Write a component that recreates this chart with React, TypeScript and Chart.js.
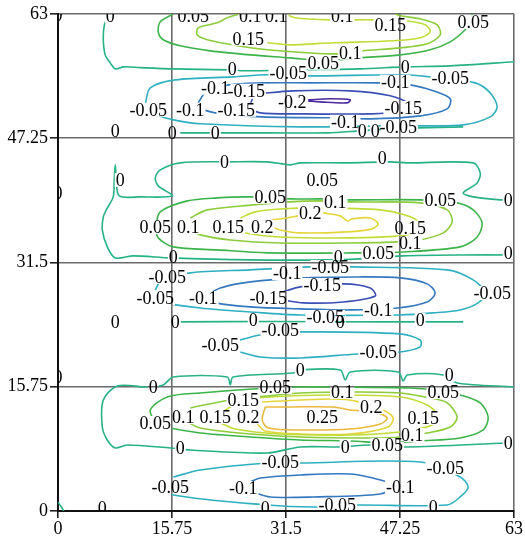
import React, { useEffect, useRef } from 'react';
import { Chart, registerables } from 'chart.js';
Chart.register(...registerables);

const AXIS_TICKS = [0, 15.75, 31.5, 47.25, 63];
const AXIS_TICK_LABELS = ['0', '15.75', '31.5', '47.25', '63'];

const LEVELS = ['-0.2', '-0.15', '-0.1', '-0.05', '0', '0.05', '0.1', '0.15', '0.2', '0.25'];
const LEVEL_COLORS = ['#4b2a9e', '#3a4fb5', '#3479c0', '#2fb0c0', '#27b283', '#3cb44a', '#8ccc3a', '#c2dc36', '#e4d63a', '#eab83c'];

type P = [number, number];

const C_M020: P[][] = [
  [[34.57,52.12],[37.61,52.25],[40.37,52.12],[39.96,51.74],[36.23,51.86],[34.57,51.99]],
];
const C_M015: P[][] = [
  [[27.67,52.88],[32.5,53.26],[40.37,53.26],[45.9,52.63],[48.38,51.61],[46.59,50.6],[43.14,50.34],[33.47,50.34],[27.94,50.47],[26.56,51.1],[26.84,52.25]],
  [[30.7,27.64],[33.47,28.41],[39.41,28.79],[43.14,28.28],[43.83,27.26],[39.41,26.5],[33.88,26.38],[31.01,26.76]],
];
const C_M010: P[][] = [
  [[19.38,51.74],[20.35,53.0],[23.52,54.02],[28.22,54.27],[34.85,54.27],[44.1,54.27],[48.66,54.02],[51.84,53.26],[54.19,52.25],[53.77,50.98],[50.04,50.09],[43.14,49.71],[37.61,49.84],[28.22,49.96],[21.73,50.47],[20.07,50.85]],
  [[20.62,27.39],[22.42,28.28],[26.56,29.04],[33.47,29.55],[41.34,29.67],[47.28,29.55],[51.01,28.79],[52.11,27.64],[51.01,26.5],[46.86,25.74],[40.37,25.49],[33.47,25.62],[26.56,25.87],[21.73,26.38],[20.62,26.88]],
  [[26.56,3.68],[27.94,4.18],[33.47,4.57],[40.37,4.69],[44.52,3.93],[46.59,3.17],[44.52,2.16],[35.26,1.78],[29.32,1.78],[26.84,2.41]],
];
const C_M005: P[][] = [
  [[12.06,51.61],[12.75,53.64],[16.2,54.65],[24.2,55.03],[28.91,55.29],[34.85,55.16],[47.28,55.29],[51.42,55.03],[57.64,54.27],[59.71,53.0],[60.68,51.23],[59.71,49.96],[55.98,48.95],[50.04,48.82],[44.52,48.82],[33.47,48.69],[19.65,49.08],[15.93,49.58],[13.44,50.22],[12.47,50.6]],
  [[13.44,28.02],[14.13,29.04],[18.27,30.18],[26.56,30.56],[34.85,30.94],[40.79,30.94],[53.77,30.56],[57.36,29.29],[59.02,27.64],[58.05,26.38],[55.57,25.49],[51.84,25.11],[47.28,24.85],[33.47,24.85],[26.56,25.23],[19.65,25.74],[14.82,26.38],[13.72,27.01]],
  [[24.22,21.43],[27.94,22.32],[33.47,22.7],[47.28,22.45],[50.04,21.68],[50.04,20.8],[47.28,20.16],[41.34,19.91],[33.47,19.4],[27.94,19.53],[25.19,20.16]],
  [[15.93,4.31],[19.65,5.2],[28.91,6.09],[33.47,6.09],[50.04,6.21],[55.57,4.31],[56.67,3.04],[55.57,1.78],[53.77,0.76],[41.34,0.76],[35.26,0.51],[28.91,0.76],[15.93,2.03],[15.24,3.04]],
];
const C_000: P[][] = [
  [[6.95,63.0],[6.4,61.6],[6.26,59.7],[6.53,57.8],[7.22,56.8],[7.91,56.05],[9.03,56.3],[11.37,56.2],[15.79,56.05],[23.38,55.92],[25.87,55.8],[33.47,55.92],[41.75,56.05],[47.97,56.3],[54.19,56.43],[63,56.95]],
  [[16.89,47.93],[21.73,47.93],[28.91,47.93],[37.2,47.93],[41.75,48.19],[45.9,48.44],[49.63,48.57],[55.98,48.69]],
  [[63,39.44],[61.09,39.44],[57.36,39.82],[55.98,40.32],[57.91,41.59],[58.33,42.86],[57.36,44.13],[48.25,44.13],[45.9,44.26],[39.96,44.13],[33.47,44.13],[32.08,43.88],[28.91,44.26],[23.8,44.26],[16.89,44.13],[14.13,43.24],[13.44,42.23],[13.85,41.21],[15.79,39.94],[11.37,39.82],[8.47,39.94],[8.05,42.0],[7.91,43.88],[7.77,42.0],[7.63,39.82],[6.67,38.17],[6.26,37.28],[6.12,35.63],[6.81,33.48],[7.91,32.08],[10.4,32.34],[15.51,32.08],[26.56,31.83],[37.61,31.83],[41.75,31.96],[47.69,32.34],[55.57,32.46],[63,32.46]],
  [[16.89,23.97],[30.0,24.02],[45.0,23.97],[55.98,23.97]],
  [[63,15.72],[55.15,16.23],[53.22,17.25],[48.25,17.25],[47.69,16.48],[47.0,17.63],[40.37,17.63],[39.68,16.61],[38.99,17.88],[33.47,17.88],[32.5,17.5],[24.2,16.99],[23.8,15.98],[23.38,16.99],[15.93,16.99],[14.54,15.98],[12.33,15.72],[8.19,15.85],[6.26,14.08],[6.12,10.65],[6.81,9.0],[7.91,7.99],[9.57,8.37],[15.51,7.99],[18.27,7.74],[28.91,7.35],[33.47,8.12],[38.99,8.12],[43.14,8.37],[48.25,8.12],[62.06,8.62],[63,8.62]],
  [[0,1.1],[0.4,0.6],[0.8,0]],
];
const C_005: P[][] = [
  [[15.93,63.02],[14.13,62.01],[13.85,60.74],[14.54,59.73],[16.89,58.97],[21.04,58.33],[26.56,57.82],[32.08,57.44],[36.92,57.07],[41.75,57.44],[47.28,57.82],[51.42,58.46],[54.19,59.47],[56.26,61.0],[56.95,62.01],[57.22,63.02]],
  [[13.44,36.01],[14.13,37.92],[17.86,39.31],[22.0,39.69],[26.56,39.82],[32.08,39.56],[36.64,39.56],[40.37,39.44],[50.04,39.44],[55.15,39.06],[57.36,38.17],[58.6,36.52],[57.91,34.74],[55.57,33.48],[47.69,32.84],[41.06,32.72],[28.91,32.72],[22.0,33.1],[15.93,33.48],[13.85,34.62],[13.44,36.01]],
  [[13.44,11.16],[12.75,12.81],[15.1,14.46],[19.65,14.96],[28.91,15.6],[33.05,15.72],[38.02,15.72],[48.66,15.6],[53.22,15.21],[55.57,14.71],[58.33,13.7],[59.43,11.92],[58.74,10.27],[55.57,9.26],[50.04,8.88],[45.48,8.62],[40.37,8.88],[33.47,9.0],[26.56,9.38],[19.65,9.89],[15.51,10.52],[13.72,10.91]],
];
const C_010: P[][] = [
  [[25.19,63.02],[23.38,62.52],[22.0,61.88],[19.38,61.25],[19.24,60.36],[20.62,59.73],[24.77,58.97],[28.91,58.46],[34.43,58.08],[38.58,57.95],[42.03,58.33],[47.28,58.71],[51.01,59.22],[52.8,60.36],[52.39,61.63],[50.04,62.39],[47.28,62.77],[46.59,63.02]],
  [[18.27,37.15],[20.62,38.17],[26.98,38.8],[32.08,39.18],[36.23,39.31],[40.37,39.18],[50.04,39.06],[53.77,38.17],[54.46,36.65],[53.22,35.25],[50.04,34.36],[47.28,34.11],[40.37,33.98],[30.7,33.98],[23.8,34.36],[19.65,35.0],[18.27,35.63]],
  [[18.27,13.06],[23.8,14.08],[28.91,14.58],[33.47,14.96],[41.75,15.09],[47.28,14.96],[51.42,14.33],[53.77,13.7],[55.15,11.92],[54.19,10.65],[51.01,9.89],[47.28,9.38],[43.14,9.26],[33.47,9.38],[26.56,9.76],[19.65,10.52],[17.86,11.28]],
];
const C_015: P[][] = [
  [[31.39,63.02],[32.77,62.52],[37.61,62.26],[43.41,62.26],[47.97,62.14],[50.73,61.63],[51.42,60.74],[50.04,59.98],[46.31,59.6],[38.02,59.35],[32.08,59.09],[28.91,59.35]],
  [[25.19,37.15],[27.25,37.92],[30.7,38.29],[36.23,38.42],[44.52,38.17],[47.97,37.53],[49.77,36.65],[49.35,35.38],[47.28,34.87],[40.37,34.62],[30.7,34.74],[25.87,35.25],[24.07,35.76]],
  [[22.7,12.55],[25.6,14.08],[29.32,14.46],[37.61,14.71],[47.28,14.46],[51.01,13.44],[52.39,12.17],[51.7,10.91],[47.28,10.02],[40.37,9.64],[30.7,9.76],[24.49,10.4],[22.42,11.16]],
];
const C_020: P[][] = [
  [[36.64,37.79],[38.99,37.41],[39.96,36.77],[40.65,37.03],[43.14,37.15],[44.24,36.39],[43.41,35.76],[39.96,35.38],[33.47,35.25],[30.7,35.63],[29.6,36.01]],
  [[29.6,36.9],[31.67,37.15],[33.19,37.41]],
  [[28.22,13.82],[33.47,14.08],[38.02,14.2],[41.06,13.95],[45.21,12.68],[46.31,11.79],[45.62,10.65],[40.37,9.76],[33.47,9.76],[28.63,10.14],[27.53,11.03]],
];
const C_025: P[][] = [
  [[28.63,13.19],[32.08,13.19],[38.02,13.19],[40.37,12.81],[43.83,12.55],[45.48,11.79],[44.52,11.03],[40.37,10.4],[33.47,10.27],[29.05,10.52],[28.22,11.54],[28.63,13.19]],
];
const CONTOURS = [C_M020, C_M015, C_M010, C_M005, C_000, C_005, C_010, C_015, C_020, C_025];

const LABEL_TEXT = [
  '0','0','0.05','0.1','0.1','0.1','0.15','0.05','0.15','0.1','0.05','0','0','-0.05','-0.05','-0.1','-0.1','-0.15','-0.2','-0.15','-0.05','-0.1','-0.15','-0.1','0','0','-0.05','0','0','0',
  '0','0','0','0','0.05','0.05','0.1','0.05','0','0.05','0.1','0.15','0.2','0.2','0.15','0.1','0','0','0.05','0',
  '-0.05','-0.1','-0.05','-0.15','-0.05','-0.1','-0.15','-0.05','-0.1','-0.05','0','0','0','0','0','-0.05','-0.05','-0.05','0',
  '0','0','0','0.05','0.1','0.05','0.15','0.2','0.05','0.1','0.15','0.2','0.25','0.15','0.1','0','0','0.05','0','-0.05','-0.05','-0.05','-0.1','-0.1','-0.05','0','0','0',
];
const LABEL_X = [
  0,7.22,18.69,26.56,30.15,39.27,45.9,57.36,26.28,40.37,36.64,24.07,47.97,31.81,54.19,46.59,21.73,26.0,32.36,47.69,12.47,18.27,24.63,39.68,42.03,43.83,47.0,7.91,15.79,21.73,
  0,8.6,23.0,44.79,36.5,29.32,38.3,52.8,62.2,13.44,18.0,23.52,28.22,34.85,48.66,48.66,15.93,38.71,44.24,62.2,
  15.1,31.67,37.61,36.5,13.44,20.07,29.05,59.98,44.24,36.92,7.91,16.2,26.98,38.99,50.04,30.7,22.42,44.24,0,
  13.16,33.47,54.05,30.01,39.27,53.22,25.6,43.27,13.44,17.31,21.73,26.28,36.5,50.46,48.94,16.89,39.68,45.48,62.2,30.7,53.5,15.51,25.6,47.28,38.58,6.12,28.63,51.84,
];
const LABEL_Y = [
  62.9,62.7,62.7,62.7,62.7,62.7,61.63,62.0,59.85,58.08,56.81,56.05,56.3,55.54,54.91,54.4,53.64,53.26,51.86,51.1,50.85,50.85,50.85,49.33,48.19,48.19,48.7,48.19,47.93,47.93,
  40.32,41.97,44.26,44.76,41.97,39.82,39.18,39.44,39.44,36.01,36.01,36.01,36.01,37.79,35.89,33.98,32.21,32.21,32.72,32.72,
  29.67,30.18,30.94,28.66,27.01,27.01,27.01,27.64,25.49,24.6,23.97,23.97,24.22,23.97,24.22,22.95,21.05,20.16,16.99,
  15.72,17.88,17.25,15.72,15.09,15.09,14.08,13.19,11.16,11.92,11.92,11.92,11.92,11.79,9.64,7.99,8.12,8.37,8.62,6.21,5.45,3.04,2.92,3.04,0.76,0.38,0.38,0.51,
];

const FONT_SIZE = 18;
const FONT = `${FONT_SIZE}px "Liberation Serif", "Times New Roman", serif`;

function labelBoxes(chart: any) {
  const ctx = chart.ctx;
  ctx.save();
  ctx.font = FONT;
  const boxes = LABEL_TEXT.map((t, i) => {
    const px = chart.scales.x.getPixelForValue(LABEL_X[i]);
    const py = chart.scales.y.getPixelForValue(LABEL_Y[i]);
    const w = ctx.measureText(t).width;
    return { t, px, py, w };
  });
  ctx.restore();
  return boxes;
}

const contourLabels = {
  id: 'contourLabels',
  beforeDatasetsDraw(chart: any) {
    const ctx = chart.ctx;
    const boxes = labelBoxes(chart);
    ctx.save();
    ctx.beginPath();
    ctx.rect(0, 0, chart.width, chart.height);
    boxes.forEach((b) => {
      ctx.rect(b.px - b.w / 2 - 1, b.py - 7, b.w + 2, 14);
    });
    ctx.clip('evenodd');
  },
  afterDatasetsDraw(chart: any) {
    const ctx = chart.ctx;
    ctx.restore();
    const area = chart.chartArea;
    const boxes = labelBoxes(chart);
    ctx.save();
    ctx.beginPath();
    ctx.rect(area.left, area.top, area.right - area.left, area.bottom - area.top);
    ctx.clip();
    ctx.font = FONT;
    ctx.fillStyle = '#000';
    ctx.textAlign = 'center';
    ctx.textBaseline = 'alphabetic';
    boxes.forEach((b) => {
      ctx.fillText(b.t, b.px, b.py + FONT_SIZE * 0.33);
    });
    ctx.restore();
  },
};

export default function App() {
  const ref = useRef<HTMLCanvasElement>(null);
  useEffect(() => {
    document.body.style.margin = '0';
    const datasets: any[] = [];
    CONTOURS.forEach((lines, li) => {
      lines.forEach((line, k) => {
        datasets.push({
          label: `${LEVELS[li]}#${k}`,
          data: line.map(([x, y]) => ({ x, y })),
          showLine: true,
          pointRadius: 0,
          borderColor: LEVEL_COLORS[li],
          borderWidth: 1.6,
          tension: 0.3,
          fill: false,
        });
      });
    });
    const tickCfg = (axis: 'x' | 'y') => ({
      type: 'linear' as const,
      min: 0,
      max: 63,
      afterBuildTicks: (scale: any) => {
        scale.ticks = AXIS_TICKS.map((v) => ({ value: v }));
      },
      afterFit: (scale: any) => {
        if (axis === 'y') scale.width = 58;
        else scale.height = 32;
      },
      ticks: {
        autoSkip: false,
        maxRotation: 0,
        color: '#000',
        padding: axis === 'y' ? 2 : 0,
        font: { family: '"Liberation Serif", "Times New Roman", serif', size: FONT_SIZE },
        callback: (v: any) => {
          const i = AXIS_TICKS.indexOf(Number(v));
          return i >= 0 ? AXIS_TICK_LABELS[i] : '';
        },
      },
      grid: {
        color: '#6a6a6a',
        lineWidth: 1.6,
        tickLength: axis === 'y' ? 8 : 7,
        tickColor: '#222',
      },
      border: { color: '#111', width: 2 },
    });
    const chart = new Chart(ref.current!, {
      type: 'scatter',
      data: { datasets },
      options: {
        responsive: false,
        animation: false,
        devicePixelRatio: 1,
        layout: { padding: { top: 14, right: 11, left: 0, bottom: 0 } },
        plugins: { legend: { display: false }, tooltip: { enabled: false } },
        scales: { x: tickCfg('x'), y: tickCfg('y') },
      },
      plugins: [contourLabels],
    });
    return () => chart.destroy();
  }, []);
  return (
    <div style={{ width: 525, height: 543, background: '#fff' }}>
      <canvas ref={ref} width={525} height={543} />
    </div>
  );
}
